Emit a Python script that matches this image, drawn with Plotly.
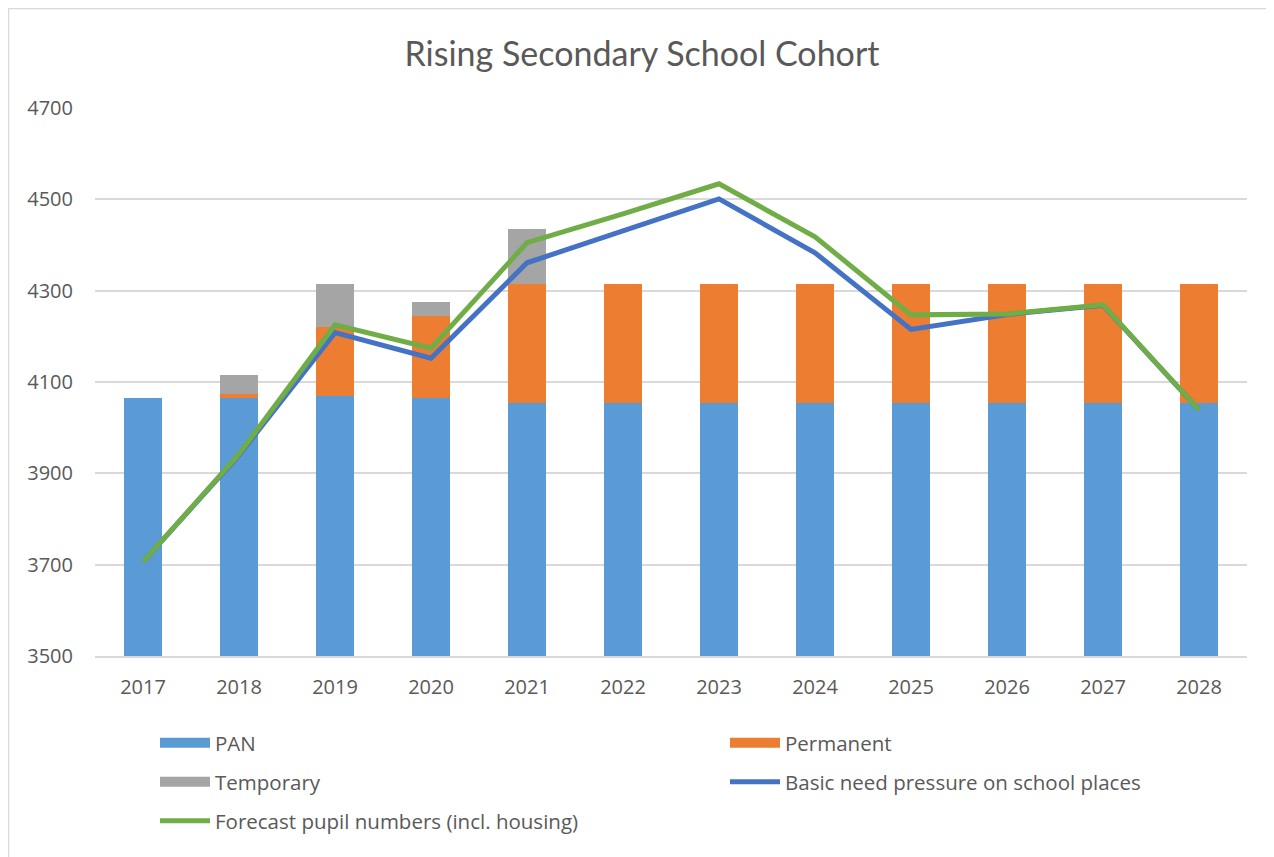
import plotly.graph_objects as go

years = ["2017", "2018", "2019", "2020", "2021", "2022", "2023", "2024", "2025", "2026", "2027", "2028"]
pan = [4065, 4065, 4070, 4065, 4055, 4055, 4055, 4055, 4055, 4055, 4055, 4055]
permanent = [0, 9, 150, 180, 260, 260, 260, 260, 260, 260, 260, 260]
temporary = [0, 41, 95, 30, 120, 0, 0, 0, 0, 0, 0, 0]
basic_need = [3706, 3940, 4208, 4152, 4361, 4431, 4501, 4383, 4215, 4248, 4268, 4039]
forecast = [3706, 3942, 4225, 4174, 4405, 4468, 4534, 4418, 4247, 4249, 4269, 4039]

TITLE_FONT = "Lato, sans-serif"
FONT = "'Open Sans', sans-serif"
TXT = "#595959"

C_PAN, C_PERM, C_TEMP = "#5b9bd5", "#ed7d31", "#a5a5a5"
C_BASIC, C_FORE = "#4472c4", "#70ad47"

fig = go.Figure()
fig.add_trace(go.Bar(x=years, y=pan, name="PAN", marker_color=C_PAN, marker_line_width=0,
                     showlegend=False, legendgroup="pan"))
fig.add_trace(go.Bar(x=years, y=permanent, name="Permanent", marker_color=C_PERM, marker_line_width=0,
                     showlegend=False, legendgroup="perm"))
fig.add_trace(go.Bar(x=years, y=temporary, name="Temporary", marker_color=C_TEMP, marker_line_width=0,
                     showlegend=False, legendgroup="temp"))
fig.add_trace(go.Scatter(x=years, y=basic_need, name="Basic need pressure on school places",
                         mode="lines", line=dict(color=C_BASIC, width=5), legend="legend4"))
fig.add_trace(go.Scatter(x=years, y=forecast, name="Forecast pupil numbers (incl. housing)",
                         mode="lines", line=dict(color=C_FORE, width=5), legend="legend5"))

# legend-only proxies for bar series (wide rectangle symbols)
for nm, col, grp, lg in [("PAN", C_PAN, "pan", "legend"), ("Permanent", C_PERM, "perm", "legend2"),
                         ("Temporary", C_TEMP, "temp", "legend3")]:
    fig.add_trace(go.Scatter(x=[None], y=[None], name=nm, mode="lines",
                             line=dict(color=col, width=14), legendgroup=grp, legend=lg))

def row_y(py):
    return (656 - py) / 548

def col_x(px):
    return (px - 95) / 1152

leg_common = dict(xanchor="left", yanchor="middle", font=dict(size=20.5, color=TXT, family=FONT),
                  bgcolor="rgba(0,0,0,0)", itemwidth=50)
x1, x2 = col_x(155), col_x(725)
r1, r2, r3 = row_y(743), row_y(782), row_y(821)

fig.update_layout(
    barmode="stack",
    bargap=0.6,
    width=1274, height=857,
    margin=dict(l=87, r=35, t=100, b=209, autoexpand=False),
    paper_bgcolor="white", plot_bgcolor="white",
    font=dict(family=FONT, color=TXT, size=20),
    title=dict(text="Rising Secondary School Cohort", x=634 / 1274, xanchor="center",
               y=1 - 46 / 857, yanchor="middle", font=dict(size=34, color=TXT, family=TITLE_FONT)),
    yaxis=dict(range=[3500, 4700], dtick=200, tick0=3500, showgrid=True, gridcolor="#d9d9d9",
               gridwidth=1.5, zeroline=False, showline=False, ticklabelstandoff=21,
               tickfont=dict(size=20, color=TXT, family=FONT)),
    xaxis=dict(showline=True, linecolor="#d9d9d9", linewidth=1.5, ticks="",
               tickfont=dict(size=20, color=TXT, family=FONT), ticklabelstandoff=12),
    legend=dict(x=x1, y=r1, **leg_common),
    legend2=dict(x=x2, y=r1, **leg_common),
    legend3=dict(x=x1, y=r2, **leg_common),
    legend4=dict(x=x2, y=r2, **leg_common),
    legend5=dict(x=x1, y=r3, **leg_common),
    shapes=[dict(type="rect", xref="paper", yref="paper",
                 x0=col_x(8.5), x1=col_x(1300),
                 y0=row_y(880), y1=row_y(8.5),
                 line=dict(color="#d9d9d9", width=1.5), fillcolor="rgba(0,0,0,0)", layer="below")],
)

fig.write_html("out.html")
